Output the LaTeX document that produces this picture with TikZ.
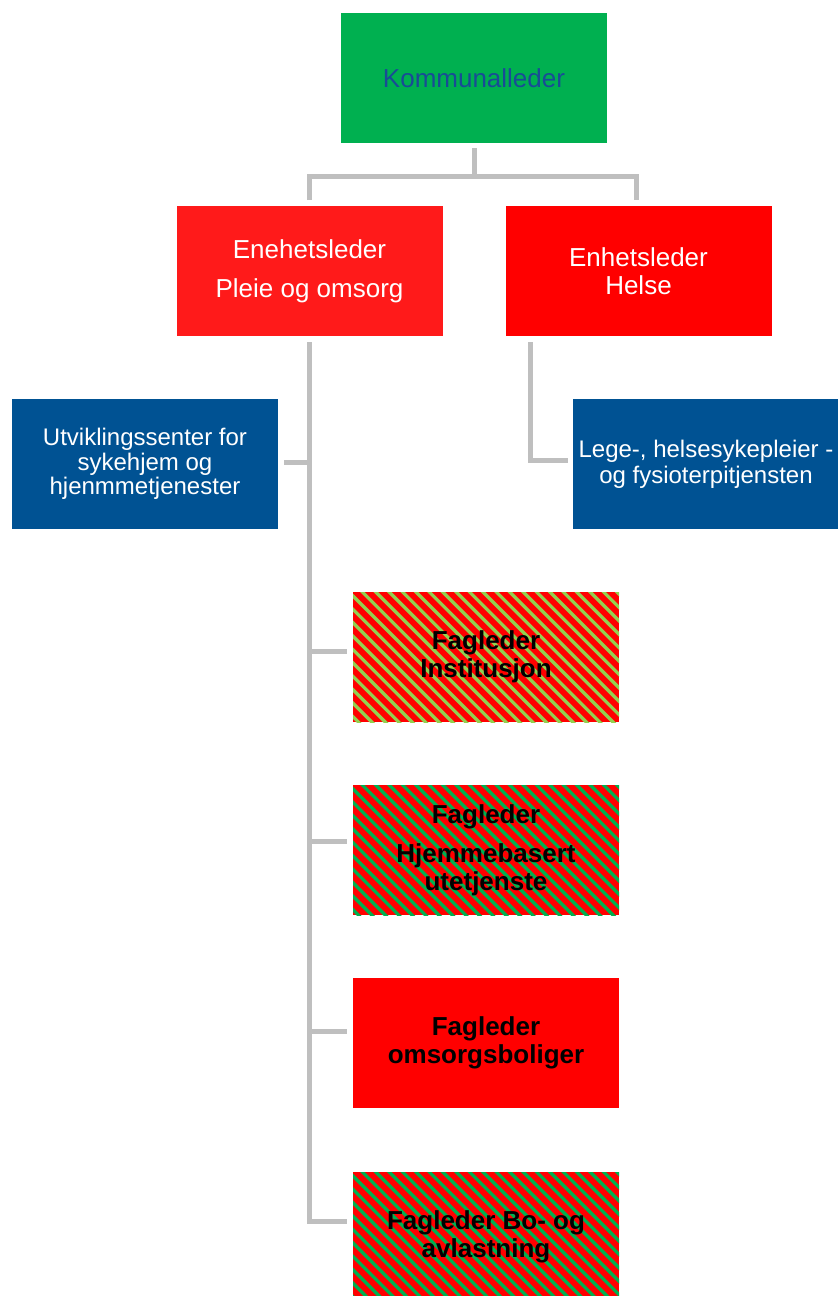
\documentclass[tikz,border=0pt]{standalone}
\usepackage{fontspec}
\setmainfont{Liberation Sans}
\usepackage{tikz}
\usetikzlibrary{calc}

\definecolor{chefgreen}{RGB}{0,176,80}
\definecolor{chefblue}{RGB}{25,75,150}
\definecolor{unitred}{RGB}{255,26,26}
\definecolor{pureRed}{RGB}{255,0,0}
\definecolor{unitblue}{RGB}{0,82,147}
\definecolor{stripelime}{RGB}{146,208,80}
\definecolor{linkgray}{RGB}{191,191,191}

\tikzset{
  box/.style={rectangle, inner sep=0pt, outer sep=0pt, minimum width=266, minimum height=130, align=center},
  leader/.style={box, text=white, font=\fontsize{26}{28}\selectfont},
  service/.style={box, fill=unitblue, text=white, font=\fontsize{24}{24.5}\selectfont},
  fag/.style={box, text=black, font=\bfseries\fontsize{26}{28}\selectfont},
  striped/.style={fag, fill=pureRed, path picture={
      \foreach \k in {0,...,32}
        \draw [#1, line width=3.3pt] ($(path picture bounding box.north west)+(\k*13.4-140,-2)$) -- ++(170,170);
    }},
  link/.style={draw=linkgray, line width=5pt}
}

\begin{document}
\begin{tikzpicture}[x=1pt,y=-1pt]
\useasboundingbox (0,0) rectangle (838,1296);

\node [box, fill=chefgreen, text=chefblue, font=\fontsize{26}{28}\selectfont] (boss) at (474,78) {Kommunalleder};
\node [leader, fill=unitred] (pleie) at (309.5,271) {Enehetsleder\\[11pt]Pleie og omsorg};
\node [leader, fill=pureRed, font=\fontsize{26}{27.5}\selectfont] (helse) at (638.5,271) {Enhetsleder\\Helse};

\node [service] (utv) at (145,464) {Utviklingssenter for\\sykehjem og\\hjenmmetjenester};
\node [service, font=\fontsize{24}{26}\selectfont] (lege) at (706,464) {Lege-, helsesykepleier -\\og fysioterpitjensten};

%fagledere under pleie og omsorg
\node [striped=stripelime] (inst) at (486,657) {Fagleder\\Institusjon};
\node [striped=chefgreen] (hjem) at (486,850) {Fagleder\\[11pt]Hjemmebasert\\utetjenste};
\node [fag, fill=pureRed] (oms) at (486,1043) {Fagleder\\omsorgsboliger};
\node [striped=chefgreen] (bo) at (486,1237) {Fagleder Bo- og\\avlastning};

%linjer
\draw [link] ($(boss.south)+(0,5)$) -- ($(boss.south)+(0,33)$);
\draw [link] ($(pleie.north)+(0,-6)$) |- ($(boss.south)+(0,33)$) -| ($(helse.north)+(-2,-6)$);
\draw [link] ($(pleie.south)+(0,6)$) |- ($(bo.west)+(-6,-16)$);
\draw [link] ($(pleie.south |- utv.east)+(0,-2)$) -- ($(utv.east)+(6,-2)$);
\draw [link] ($(pleie.south |- inst.west)+(0,-6)$) -- ($(inst.west)+(-6,-6)$);
\draw [link] ($(pleie.south |- hjem.west)+(0,-9)$) -- ($(hjem.west)+(-6,-9)$);
\draw [link] ($(pleie.south |- oms.west)+(0,-12)$) -- ($(oms.west)+(-6,-12)$);
\draw [link] ($(helse.south west)+(25,6)$) |- ($(lege.west)+(-5,-4)$);

\end{tikzpicture}
\end{document}
